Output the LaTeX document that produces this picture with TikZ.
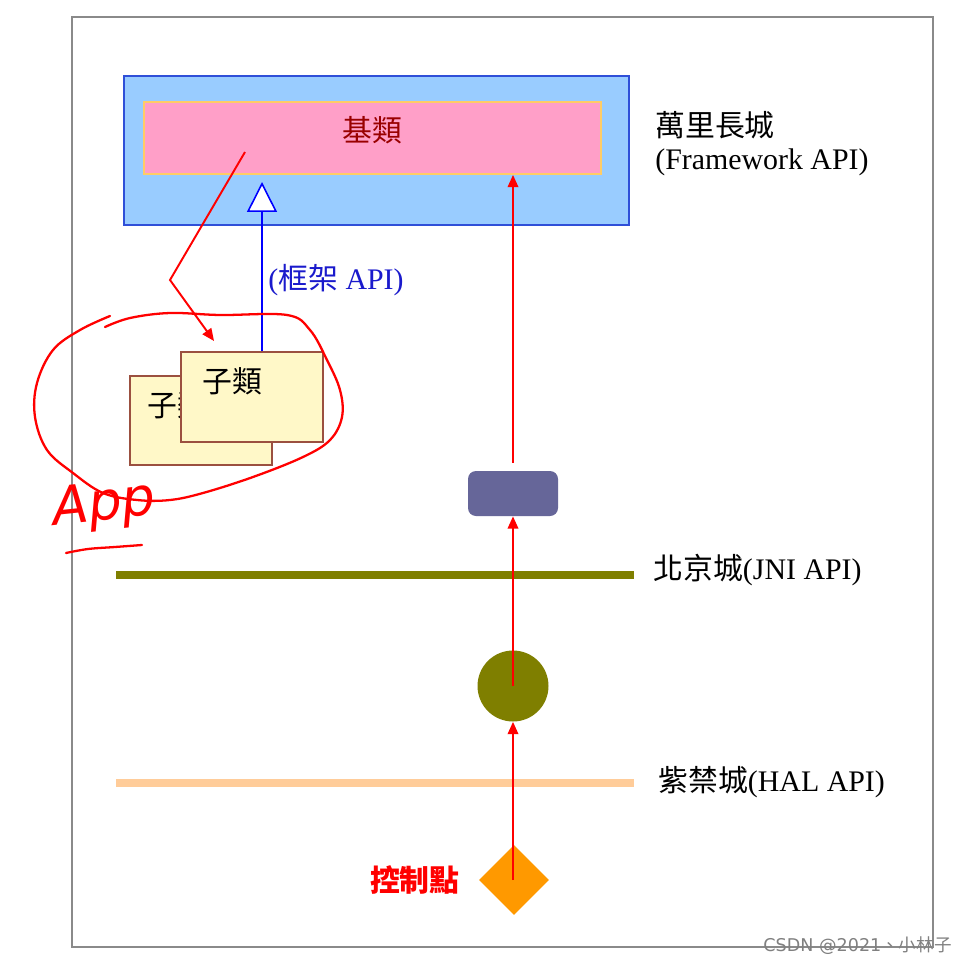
\documentclass[tikz,border=0pt]{standalone}
\usepackage{fontspec}
\setmainfont{Liberation Serif}
\newfontfamily\cjk{Noto Sans CJK TC}
\newfontfamily\hand{DejaVu Sans}
\usetikzlibrary{shapes.geometric,fit,arrows.meta}
\definecolor{skyfill}{HTML}{99CCFF}
\definecolor{skyline}{HTML}{2F4FD8}
\definecolor{pinkfill}{HTML}{FF9FC8}
\definecolor{pinkline}{HTML}{FFCC66}
\definecolor{subfill}{HTML}{FFF8C8}
\definecolor{subline}{HTML}{9B5040}
\definecolor{slate}{HTML}{666699}
\definecolor{olive2}{HTML}{7F7F00}
\definecolor{orange2}{HTML}{FF9900}
\definecolor{peach}{HTML}{FFCC99}
\definecolor{darkred2}{HTML}{990000}
\definecolor{apiblue}{HTML}{1A1ACC}
\definecolor{framegray}{HTML}{8A8A8A}
\tikzset{
  redarr/.style={draw=red, line width=1.1pt, -{Triangle[length=7pt,width=6pt]}},
  inh/.style={draw=blue, line width=0.9pt, -{Triangle[open,fill=white,length=17pt,width=17pt,line width=0.9pt]}, draw=blue},
  subbox/.style={draw=subline, line width=1pt, fill=subfill, inner sep=0pt},
  lbl/.style={anchor=west, font=\fontsize{17}{20}\selectfont, text=black, inner sep=0pt},
  handline/.style={draw=red, line width=1.3pt, line cap=round, line join=round},
}
\begin{document}
\begin{tikzpicture}[x=0.02cm, y=-0.02cm]
\useasboundingbox (0,0) rectangle (966,966);
\fill[white] (0,0) rectangle (966,966);
% frame
\draw[framegray, line width=1.2pt] (72,17) rectangle (933,947);

% framework block
\node[fit={(124,76)(629,225)}, inner sep=0pt, draw=skyline, line width=1pt, fill=skyfill] (fw) {};
\node[fit={(144,102)(601,174)}, inner sep=0pt, draw=pinkline, line width=1pt, fill=pinkfill] (base) {};
\node[font=\cjk\fontsize{17}{20}\selectfont, text=darkred2, inner sep=0pt] (basetxt) at (372,130) {基類};
\node[lbl] (wall) at (655,125) {\cjk 萬里長城};
\node[lbl] (fwapi) at (655,162) {(Framework API)};

% subclasses
\node[fit={(130,376)(272,465)}, subbox] (back) {};
\node[font=\cjk\fontsize{17}{20}\selectfont, inner sep=0pt] (backtxt) at (177,405) {子類};
\node[fit={(181,352)(323,442)}, subbox] (front) {};
\node[font=\cjk\fontsize{17}{20}\selectfont, inner sep=0pt] (fronttxt) at (232,381) {子類};

% inheritance
\coordinate (inhtop) at (262,182);
\draw[inh] (front.north -| inhtop) -- (inhtop);
\node[lbl, text=apiblue] (fapi) at (268,280) {({\cjk 框架} API)};

% red hook arrow
\coordinate (hookstart) at (245,152);
\coordinate (hookbend) at (170,280);
\coordinate (hookend) at (214,341);
\draw[redarr] (hookstart) -- (hookbend) -- (hookend);

% API layers
\draw[olive2, line width=4.5pt] (116,575) -- (634,575);
\node[lbl] (jni) at (653,570) {{\cjk 北京城}(JNI API)};
\draw[peach, line width=4.5pt] (116,783) -- (634,783);
\node[lbl] (hal) at (658,782) {{\cjk 紫禁城}(HAL API)};

% chain of components
\node[fit={(468,471)(558,516)}, inner sep=0pt, fill=slate, rounded corners=0.16cm] (jnibox) {};
\node[circle, fill=olive2, minimum size=1.42cm, inner sep=0pt] (hw) at (513,686) {};
\node[diamond, fill=orange2, minimum width=1.4cm, minimum height=1.4cm, inner sep=0pt] (ctrl) at (514,880) {};
\node[anchor=east, font=\cjk\bfseries\fontsize{17}{20}\selectfont, text=red, inner sep=0pt] (ctrltxt) at (460,880) {控制點};

\draw[redarr] ([yshift=0.16cm]jnibox.north) -- (jnibox.north |- base.south);
\draw[redarr] (hw.center) -- (hw.center |- jnibox.south);
\draw[redarr] (ctrl.center -| hw.center) -- (hw.south);

% handwritten annotation
\draw[handline] plot[smooth, tension=0.6] coordinates {
  (105,327) (130,318) (170,313) (220,315) (287,315) (310,330) (327,360) (340,390)
  (342,417) (330,440) (303,457) (253,477) (203,493) (170,500) (137,500) (103,493)
  (73,473) (47,450) (35,417) (37,383) (53,350) (80,330) (110,316)};
\node[text=red, font=\hand\itshape\fontsize{30}{32}\selectfont, rotate=6, inner sep=0pt] (app) at (104,506) {App};
\draw[handline] plot[smooth, tension=0.6] coordinates {(66,553) (88,549) (115,547) (142,545)};

% watermark
\node[anchor=east, text=gray, font=\fontspec{DejaVu Sans}\fontsize{10}{12}\selectfont, inner sep=0pt] (wm) at (952,946) {CSDN @2021{\cjk 、小林子}};
\end{tikzpicture}
\end{document}
